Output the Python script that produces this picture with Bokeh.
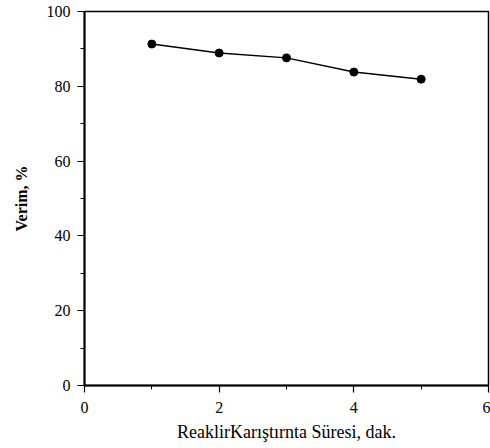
from bokeh.plotting import figure
from bokeh.models import Range1d, FixedTicker
from bokeh.embed import file_html
from bokeh.resources import INLINE

# Data
sure = [1, 2, 3, 4, 5]
verim = [91.3, 88.9, 87.6, 83.8, 81.9]
x_ticks = [0, 2, 4, 6]
x_minor = [1, 3, 5]
y_ticks = [0, 20, 40, 60, 80, 100]
y_minor = [10, 30, 50, 70, 90]

p = figure(width=490, height=448, output_backend="svg", toolbar_location=None,
           x_range=Range1d(0, 6), y_range=Range1d(0, 100),
           min_border_left=84, min_border_right=2, min_border_top=11, min_border_bottom=63)
p.background_fill_color = "white"
p.border_fill_color = "white"
p.outline_line_color = "black"
p.outline_line_width = 1.5
p.grid.visible = False

p.line(sure, verim, line_color="black", line_width=1.5)
p.scatter(sure, verim, size=8, fill_color="black", line_color="black")

font = "serif"
for ax in (p.xaxis[0], p.yaxis[0]):
    ax.axis_line_width = 2
    ax.axis_line_color = "black"
    ax.major_tick_line_color = "black"
    ax.minor_tick_line_color = "black"
    ax.major_tick_line_width = 1.2
    ax.major_tick_out = 7
    ax.major_tick_in = 0
    ax.minor_tick_out = 4
    ax.minor_tick_in = 0
    ax.major_label_text_font = font
    ax.major_label_text_font_size = "16px"
    ax.major_label_text_color = "black"
    ax.axis_label_text_font = font
    ax.axis_label_text_color = "black"

p.xaxis[0].ticker = FixedTicker(ticks=x_ticks, minor_ticks=x_minor)
p.yaxis[0].ticker = FixedTicker(ticks=y_ticks, minor_ticks=y_minor)
p.xaxis[0].major_label_standoff = 9
p.yaxis[0].major_label_standoff = 7

p.xaxis[0].axis_label = "ReaklirKarıştırnta Süresi, dak."
p.xaxis[0].axis_label_text_font_size = "18px"
p.xaxis[0].axis_label_text_font_style = "normal"
p.xaxis[0].axis_label_standoff = 6

p.yaxis[0].axis_label = "Verim, %"
p.yaxis[0].axis_label_text_font_size = "16px"
p.yaxis[0].axis_label_text_font_style = "bold"
p.yaxis[0].axis_label_standoff = 14

open("out.html", "w").write(file_html(p, INLINE))
